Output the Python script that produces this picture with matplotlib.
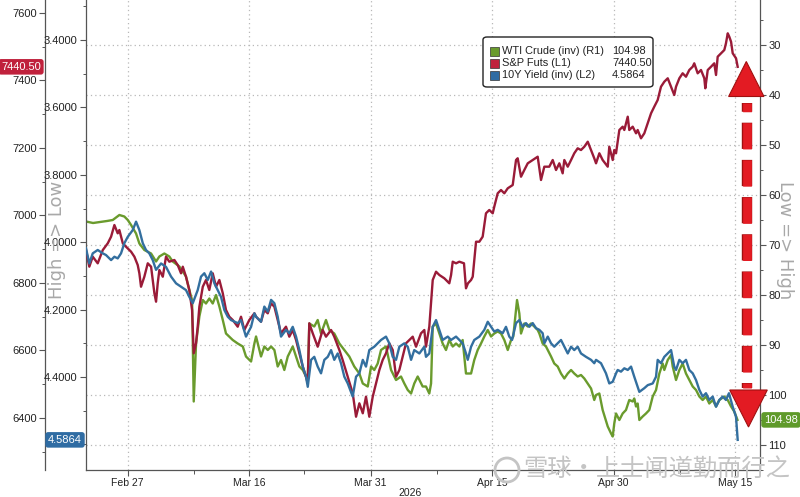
import numpy as np
import matplotlib
matplotlib.use("Agg")
import matplotlib.pyplot as plt
import matplotlib.patheffects as pe
from matplotlib.patches import Polygon, Rectangle, FancyBboxPatch, Ellipse
from matplotlib.ticker import MultipleLocator, FormatStrFormatter
from matplotlib.transforms import blended_transform_factory

plt.rcParams['font.family'] = ['Liberation Sans', 'Noto Sans CJK SC', 'DejaVu Sans']

# x = trading days from Feb 27 (Feb 27 = 0)
date_pos = [0, 11, 22, 33, 44, 55]
date_labels = ["Feb 27", "Mar 16", "Mar 31", "Apr 15", "Apr 30", "May 15"]
minor_pos = [6, 16, 28, 39, 50]

# WTI crude (inverted, right axis)
wti = [(-3.76, 65.3), (-3.12, 65.6), (-2.49, 65.4), (-1.86, 65.2), (-1.34, 65.0), (-0.74, 64.0),
       (-0.29, 64.3), (0.02, 65.0), (0.32, 66.0), (0.77, 67.7), (1.07, 69.7), (1.52, 71.0),
       (2.13, 71.7), (2.58, 73.3), (2.88, 72.3), (3.33, 71.7), (3.78, 72.3), (4.09, 73.3),
       (4.69, 74.3), (5.29, 76.3), (5.59, 79.0), (5.84, 81.0), (5.99, 101.3), (6.20, 89.7),
       (6.50, 84.3), (6.81, 81.0), (7.10, 81.7), (7.40, 80.7), (7.71, 81.7), (8.01, 80.0),
       (8.31, 82.3), (8.62, 85.0), (8.91, 87.7), (9.52, 89.0), (9.97, 89.7), (10.43, 90.3),
       (10.72, 92.3), (11.18, 93.3), (11.48, 89.7), (11.63, 88.3), (11.93, 91.0), (12.08, 92.3),
       (12.38, 90.3), (12.69, 91.0), (12.99, 90.3), (13.29, 91.0), (13.59, 94.3), (13.89, 93.0),
       (14.19, 95.0), (14.50, 92.3), (14.95, 90.3), (15.25, 92.3), (15.55, 94.3), (15.86, 95.0),
       (16.31, 97.0), (16.45, 85.7), (16.90, 86.3), (17.21, 85.0), (17.51, 87.7), (17.96, 85.0),
       (18.26, 87.0), (18.71, 87.7), (19.17, 89.7), (19.62, 91.0), (20.07, 92.3), (20.52, 94.3),
       (20.98, 95.7), (21.29, 97.7), (21.74, 98.3), (22.04, 94.3), (22.33, 95.0), (22.64, 93.7),
       (22.94, 91.0), (23.39, 90.3), (23.85, 95.0), (24.30, 97.0), (24.75, 96.3), (25.05, 97.7),
       (25.36, 99.0), (25.66, 99.7), (25.95, 97.7), (26.26, 96.3), (26.71, 98.3), (27.01, 98.3),
       (27.31, 99.7), (27.47, 97.7), (27.62, 86.3), (27.92, 85.7), (28.22, 87.7), (28.52, 89.7),
       (28.82, 91.0), (29.12, 89.0), (29.43, 90.3), (29.73, 89.7), (30.03, 90.3), (30.33, 89.0),
       (30.48, 92.3), (30.63, 95.7), (31.09, 95.7), (31.38, 93.0), (31.69, 91.0), (31.99, 89.7),
       (32.29, 88.3), (32.60, 87.0), (32.90, 88.3), (33.19, 87.7), (33.50, 87.3), (33.80, 87.7),
       (34.10, 89.0), (34.41, 91.0), (34.71, 89.0), (34.91, 88.3), (35.16, 83.0), (35.25, 81.0),
       (35.46, 83.7), (35.61, 87.7), (35.91, 85.7), (36.22, 86.3), (36.52, 85.7), (36.81, 86.3),
       (37.12, 87.0), (37.27, 87.7), (37.57, 89.7), (37.87, 90.3), (38.03, 91.0), (38.33, 92.3),
       (38.62, 93.7), (38.93, 94.3), (39.23, 95.7), (39.53, 96.7), (39.84, 95.7), (40.14, 95.0),
       (40.43, 95.7), (40.74, 96.3), (41.04, 96.0), (41.34, 96.7), (41.65, 97.7), (41.95, 98.7),
       (42.24, 101.0), (42.40, 100.0), (42.70, 99.7), (43.00, 103.0), (43.46, 106.3), (43.76, 107.7),
       (43.91, 108.3), (44.05, 105.7), (44.21, 103.7), (44.51, 105.0), (44.81, 103.7), (45.11, 103.0),
       (45.41, 101.0), (45.72, 101.3), (45.86, 100.7), (46.02, 102.3), (46.17, 101.7), (46.32, 105.0),
       (46.62, 104.3), (46.92, 103.7), (47.22, 103.0), (47.53, 100.3), (47.83, 99.0), (48.13, 95.7),
       (48.43, 93.7), (48.58, 95.0), (48.89, 93.0), (49.19, 92.0), (49.34, 94.3), (49.64, 97.0),
       (49.94, 95.0), (50.24, 93.7), (50.54, 95.7), (50.84, 97.0), (51.15, 98.3), (51.45, 99.0),
       (51.75, 100.3), (52.05, 101.0), (52.35, 100.3), (52.65, 101.7), (52.96, 101.0), (53.26, 102.3),
       (53.56, 101.0), (54.01, 100.3), (54.32, 101.0), (54.62, 102.3), (54.91, 103.3), (55.20, 104.98)]

# S&P futures (left outer axis)
spx = [(-3.76, 6897.7), (-3.46, 6848.3), (-3.15, 6877.9), (-2.70, 6858.3), (-2.24, 6897.7), (-1.79, 6917.6),
       (-1.49, 6937.2), (-1.19, 6971.8), (-0.89, 6947.2), (-0.74, 6957.0), (-0.43, 6917.6), (-0.14, 6907.5),
       (0.32, 6892.7), (0.62, 6877.9), (0.92, 6853.3), (1.07, 6828.7), (1.22, 6789.0), (1.52, 6818.6),
       (1.83, 6858.3), (2.13, 6848.3), (2.43, 6769.5), (2.58, 6744.6), (2.73, 6799.1), (2.88, 6838.5),
       (3.19, 6818.6), (3.48, 6877.9), (3.78, 6863.1), (4.24, 6868.1), (4.54, 6853.3), (4.84, 6828.7),
       (5.00, 6848.3), (5.29, 6818.6), (5.59, 6779.2), (5.84, 6720.0), (5.99, 6591.7), (6.20, 6621.3),
       (6.35, 6670.5), (6.50, 6729.7), (6.81, 6789.0), (7.10, 6808.9), (7.40, 6779.2), (7.71, 6828.7),
       (8.01, 6789.0), (8.31, 6808.9), (8.62, 6769.5), (8.91, 6720.0), (9.21, 6700.1), (9.52, 6690.3),
       (9.97, 6670.5), (10.27, 6700.1), (10.57, 6660.7), (11.02, 6690.3), (11.48, 6710.2), (11.63, 6700.1),
       (12.08, 6685.3), (12.38, 6720.0), (12.69, 6710.2), (12.99, 6739.8), (13.29, 6729.7), (13.59, 6690.3),
       (13.89, 6650.9), (14.34, 6670.5), (14.64, 6640.9), (14.95, 6660.7), (15.25, 6631.1), (15.55, 6591.7),
       (15.86, 6552.0), (16.15, 6522.3), (16.31, 6502.8), (16.45, 6680.6), (16.76, 6650.9), (17.21, 6611.2),
       (17.66, 6660.7), (17.96, 6640.9), (18.42, 6660.7), (18.71, 6640.9), (19.17, 6601.4), (19.47, 6571.8),
       (19.93, 6522.3), (20.38, 6473.2), (20.68, 6403.8), (20.98, 6443.5), (21.29, 6413.9), (21.58, 6463.1),
       (21.88, 6403.8), (22.19, 6463.1), (22.49, 6502.8), (22.79, 6542.2), (23.09, 6571.8), (23.39, 6591.7),
       (23.69, 6621.3), (24.00, 6601.4), (24.30, 6522.3), (24.60, 6542.2), (25.20, 6621.3), (25.81, 6640.9),
       (26.11, 6611.2), (26.56, 6650.9), (26.86, 6660.7), (27.01, 6611.2), (27.31, 6670.5), (27.62, 6808.9),
       (27.92, 6833.4), (28.22, 6823.7), (28.67, 6813.9), (29.12, 6799.1), (29.28, 6823.7), (29.43, 6863.1),
       (29.73, 6858.3), (30.03, 6863.1), (30.45, 6858.3), (30.63, 6784.3), (30.81, 6799.1), (31.09, 6808.9),
       (31.24, 6818.6), (31.54, 6922.3), (31.84, 6922.3), (32.14, 6937.2), (32.44, 7006.5), (32.74, 7016.3),
       (33.05, 7006.5), (33.19, 7026.0), (33.50, 7065.7), (33.80, 7075.5), (34.10, 7065.7), (34.41, 7080.6),
       (34.86, 7090.3), (35.16, 7164.4), (35.31, 7169.5), (35.61, 7114.9), (35.91, 7134.8), (36.22, 7154.6),
       (36.67, 7164.4), (37.12, 7174.2), (37.42, 7105.2), (37.72, 7144.6), (38.17, 7144.6), (38.48, 7164.4),
       (38.78, 7134.8), (39.08, 7154.6), (39.38, 7125.0), (39.53, 7164.4), (39.84, 7144.6), (40.14, 7164.4),
       (40.43, 7184.3), (40.74, 7199.1), (41.04, 7194.0), (41.34, 7203.8), (41.65, 7218.6), (41.95, 7194.0),
       (42.24, 7169.5), (42.40, 7154.6), (42.70, 7184.3), (43.00, 7164.4), (43.46, 7144.6), (43.60, 7203.8),
       (43.91, 7164.4), (44.05, 7194.0), (44.21, 7184.3), (44.51, 7253.3), (44.81, 7263.1), (44.96, 7253.3),
       (45.27, 7292.7), (45.41, 7253.3), (45.72, 7263.1), (46.02, 7243.5), (46.17, 7253.3), (46.47, 7228.7),
       (46.77, 7243.5), (47.08, 7273.2), (47.38, 7302.8), (47.67, 7322.3), (47.98, 7342.2), (48.28, 7381.6),
       (48.58, 7396.4), (48.89, 7406.5), (49.19, 7381.6), (49.48, 7357.0), (49.64, 7381.6), (49.94, 7406.5),
       (50.24, 7421.3), (50.54, 7411.2), (50.84, 7431.1), (51.15, 7440.9), (51.29, 7450.9), (51.60, 7421.3),
       (51.90, 7431.1), (52.20, 7406.5), (52.29, 7376.9), (52.51, 7431.1), (52.81, 7440.9), (53.10, 7450.9),
       (53.26, 7416.3), (53.41, 7470.5), (53.71, 7480.6), (54.01, 7490.3), (54.16, 7510.2), (54.32, 7539.8),
       (54.46, 7529.8), (54.62, 7514.9), (54.77, 7480.6), (55.07, 7465.8), (55.22, 7440.5)]

# 10Y yield (inverted, left inner axis)
yld = [(-3.76, 4.018), (-3.46, 4.063), (-3.15, 4.033), (-2.70, 4.023), (-2.24, 4.033), (-1.95, 4.038),
       (-1.49, 4.053), (-1.19, 4.043), (-0.89, 4.048), (-0.59, 4.033), (-0.29, 4.003), (0.02, 3.984),
       (0.47, 3.964), (0.77, 3.939), (1.07, 3.964), (1.38, 4.003), (1.67, 4.023), (1.97, 4.033),
       (2.28, 4.053), (2.58, 4.082), (3.03, 4.063), (3.48, 4.073), (3.94, 4.102), (4.39, 4.122),
       (4.84, 4.132), (5.29, 4.142), (5.59, 4.162), (5.90, 4.181), (6.35, 4.142), (6.65, 4.102),
       (6.95, 4.092), (7.26, 4.112), (7.56, 4.087), (7.86, 4.122), (8.16, 4.142), (8.46, 4.162),
       (8.76, 4.201), (9.07, 4.221), (9.37, 4.231), (9.97, 4.240), (10.27, 4.231), (10.72, 4.280),
       (11.18, 4.251), (11.48, 4.211), (11.63, 4.221), (12.08, 4.236), (12.38, 4.191), (12.69, 4.206),
       (12.99, 4.171), (13.29, 4.181), (13.59, 4.221), (13.89, 4.280), (14.34, 4.260), (14.64, 4.270),
       (14.95, 4.251), (15.25, 4.280), (15.55, 4.320), (15.86, 4.369), (16.15, 4.399), (16.31, 4.429),
       (16.61, 4.349), (16.90, 4.340), (17.21, 4.369), (17.51, 4.389), (17.81, 4.349), (18.12, 4.340),
       (18.42, 4.320), (18.71, 4.349), (19.02, 4.330), (19.32, 4.359), (19.62, 4.399), (19.93, 4.419),
       (20.38, 4.458), (20.68, 4.399), (20.98, 4.389), (21.29, 4.349), (21.58, 4.369), (21.88, 4.320),
       (22.33, 4.310), (22.64, 4.300), (22.94, 4.290), (23.39, 4.280), (23.69, 4.300), (24.00, 4.340),
       (24.30, 4.349), (24.60, 4.310), (25.05, 4.300), (25.36, 4.310), (25.66, 4.349), (25.95, 4.320),
       (26.41, 4.330), (26.86, 4.310), (27.01, 4.340), (27.31, 4.330), (27.62, 4.251), (27.92, 4.231),
       (28.22, 4.260), (28.52, 4.290), (28.98, 4.280), (29.28, 4.290), (29.73, 4.280), (30.03, 4.290),
       (30.33, 4.300), (30.63, 4.330), (30.79, 4.349), (31.09, 4.310), (31.38, 4.290), (31.84, 4.280),
       (32.29, 4.260), (32.60, 4.236), (32.90, 4.251), (33.19, 4.265), (33.50, 4.260), (33.95, 4.270),
       (34.25, 4.251), (34.55, 4.280), (34.80, 4.290), (35.16, 4.240), (35.46, 4.231), (35.76, 4.251),
       (36.06, 4.240), (36.36, 4.251), (36.67, 4.240), (36.97, 4.255), (37.27, 4.260), (37.57, 4.270),
       (37.72, 4.300), (38.03, 4.280), (38.33, 4.300), (38.62, 4.310), (38.93, 4.300), (39.23, 4.290),
       (39.53, 4.310), (39.84, 4.330), (40.14, 4.310), (40.43, 4.320), (40.74, 4.310), (41.04, 4.330),
       (41.49, 4.340), (41.95, 4.349), (42.24, 4.359), (42.40, 4.349), (42.85, 4.359), (43.30, 4.389),
       (43.60, 4.419), (43.91, 4.414), (44.21, 4.389), (44.36, 4.379), (44.66, 4.384), (44.96, 4.374),
       (45.27, 4.379), (45.57, 4.369), (45.86, 4.399), (46.17, 4.429), (46.32, 4.444), (46.77, 4.433),
       (47.08, 4.424), (47.53, 4.419), (47.83, 4.399), (47.98, 4.349), (48.28, 4.359), (48.58, 4.340),
       (48.89, 4.330), (49.19, 4.320), (49.48, 4.369), (49.64, 4.379), (49.94, 4.349), (50.24, 4.359),
       (50.54, 4.349), (50.84, 4.379), (51.15, 4.389), (51.45, 4.409), (51.75, 4.438), (52.05, 4.458),
       (52.35, 4.448), (52.65, 4.468), (52.96, 4.458), (53.26, 4.488), (53.56, 4.468), (53.86, 4.458),
       (54.16, 4.468), (54.43, 4.448), (54.77, 4.488), (55.07, 4.518), (55.22, 4.5864)]

names = ["WTI Crude (inv) (R1)", "S&P Futs (L1)", "10Y Yield (inv) (L2)"]
last_vals = ["104.98", "7440.50", "4.5864"]

GREEN = '#6a9b2d'
RED = '#9a1b38'
BLUE = '#336f9f'
GRID = '#b8b8b8'
SPINE = '#555555'
TXT = '#222222'

wti = np.array(wti)
spx = np.array(spx)
yld = np.array(yld)

fig = plt.figure(figsize=(8, 4.97), dpi=100)
fig.patch.set_facecolor('white')
ax_w = fig.add_axes([86 / 800, 27 / 497, 674 / 800, 470 / 497])
ax_s = ax_w.twinx()
ax_y = ax_w.twinx()

ax_w.plot(wti[:, 0], wti[:, 1], color=GREEN, lw=1.7, solid_joinstyle='round')
ax_s.plot(spx[:, 0], spx[:, 1], color=RED, lw=1.7, solid_joinstyle='round')
ax_y.plot(yld[:, 0], yld[:, 1], color=BLUE, lw=1.7, solid_joinstyle='round')

# spines
for a in (ax_w, ax_s, ax_y):
    for s in a.spines.values():
        s.set_visible(False)
        s.set_color(SPINE)
        s.set_linewidth(0.9)
ax_w.spines['left'].set_visible(True)
ax_w.spines['right'].set_visible(True)
ax_w.spines['bottom'].set_visible(True)
ax_s.spines['left'].set_visible(True)
ax_s.spines['left'].set_position(('axes', -41 / 674))

# WTI axis on the right
ax_w.yaxis.tick_right()
ax_w.set_yticks(np.arange(30, 111, 10))
ax_w.yaxis.set_minor_locator(MultipleLocator(5))
ax_w.tick_params(axis='y', which='both', direction='out', left=False, right=True,
                 labelleft=False, labelright=True, colors=SPINE, labelcolor=TXT, labelsize=8, pad=2)
ax_w.tick_params(axis='y', which='major', length=4, width=0.8)
ax_w.tick_params(axis='y', which='minor', length=2.5, width=0.7)

# S&P axis outer left
ax_s.yaxis.set_ticks_position('left')
ax_s.set_yticks(np.arange(6400, 7601, 200))
ax_s.yaxis.set_minor_locator(MultipleLocator(100))
ax_s.tick_params(axis='y', which='both', direction='out', colors=SPINE, labelcolor=TXT,
                 labelsize=8, pad=1.5)
ax_s.tick_params(axis='y', which='major', length=4, width=0.8)
ax_s.tick_params(axis='y', which='minor', length=2.5, width=0.7)

# Yield axis inner left
ax_y.yaxis.set_ticks_position('left')
ax_y.set_yticks(np.arange(3.4, 4.41, 0.2))
ax_y.yaxis.set_minor_locator(MultipleLocator(0.1))
ax_y.yaxis.set_major_formatter(FormatStrFormatter('%.4f'))
ax_y.tick_params(axis='y', which='both', direction='out', colors=SPINE, labelcolor=TXT,
                 labelsize=8, pad=2)
ax_y.tick_params(axis='y', which='major', length=4, width=0.8)
ax_y.tick_params(axis='y', which='minor', length=2.5, width=0.7)

# x axis
ax_w.set_xticks(date_pos)
ax_w.set_xticklabels(date_labels)
ax_w.set_xticks(minor_pos, minor=True)
ax_w.tick_params(axis='x', which='both', direction='out', colors=SPINE, labelcolor=TXT,
                 labelsize=7.5, pad=2)
ax_w.tick_params(axis='x', which='major', length=4, width=0.8)
ax_w.tick_params(axis='x', which='minor', length=3, width=0.7)
ax_w.set_xlabel('2026', fontsize=7.5, color=TXT)
ax_w.xaxis.set_label_coords((410 - 86) / 674, -0.038)

ax_w.grid(True, which='major', axis='both', color=GRID, linestyle=(0, (1, 2.5)), lw=0.9)
ax_w.set_axisbelow(True)

# side captions
fig.text(57 / 800, 1 - 240 / 497, 'High => Low', rotation=90, ha='center', va='center',
         fontsize=13, color='#a8a8a8', family='DejaVu Sans')
fig.text(785 / 800, 1 - 240 / 497, 'Low => High', rotation=270, ha='center', va='center',
         fontsize=13, color='#a8a8a8', family='DejaVu Sans')

# last value tags
tag = dict(fontsize=8, color='white', ha='center', va='center')
fig.text(21 / 800, float(last_vals[1]), last_vals[1],
         transform=blended_transform_factory(fig.transFigure, ax_s.transData),
         bbox=dict(boxstyle='round,pad=0.25', fc='#c0213c', ec='none'), **tag)
fig.text(65 / 800, float(last_vals[2]), last_vals[2],
         transform=blended_transform_factory(fig.transFigure, ax_y.transData),
         bbox=dict(boxstyle='round,pad=0.25', fc='#2f6ca3', ec='none'), **tag)
fig.text(781 / 800, float(last_vals[0]), last_vals[0],
         transform=blended_transform_factory(fig.transFigure, ax_w.transData),
         bbox=dict(boxstyle='round,pad=0.25', fc='#5f9a2a', ec='none'), **tag)

# legend, drawn by hand so the value column lines up
ta = ax_y.transAxes
def fx(px):
    return (px - 86) / 674
def fy(py):
    return 1 - py / 470
ax_y.add_patch(FancyBboxPatch((fx(483), fy(87)), fx(653) - fx(483), fy(37) - fy(87),
                              boxstyle='round,pad=0,rounding_size=0.006', transform=ta,
                              fc='white', ec='#222222', lw=1.0, zorder=5, clip_on=False))
for i, (nm, val, c) in enumerate(zip(names, last_vals, [GREEN, '#c0213c', '#2f6ca3'])):
    rowy = 51.5 + i * 12
    ax_y.add_patch(Rectangle((fx(490), fy(rowy + 4.5)), 9 / 674, 9 / 470, transform=ta,
                             fc=c, ec='#333333', lw=0.5, zorder=6, clip_on=False))
    ax_y.text(fx(502), fy(rowy), nm, transform=ta, fontsize=7.9, color=TXT,
              va='center', ha='left', zorder=7)
    ax_y.text(fx(612), fy(rowy), val, transform=ta, fontsize=7.9, color=TXT,
              va='center', ha='left', zorder=7)

# red dashed double arrow (WTI data coordinates)
tw = ax_w.transData
ax_y.add_patch(Polygon([(56.0, 33.3), (54.4, 40.3), (57.6, 40.3)], closed=True, transform=tw,
                       fc='#e31b23', ec='#a01010', lw=0.8, zorder=8, clip_on=False))
ax_y.add_patch(Polygon([(56.2, 106.4), (54.5, 99.0), (57.9, 99.0)], closed=True, transform=tw,
                       fc='#e31b23', ec='#a01010', lw=0.8, zorder=8, clip_on=False))
ax_y.plot([56.02, 56.02], [41.6, 98.6], transform=tw, color='#e31b23', lw=6.3,
          linestyle=(2.0, (3.0, 1.25)), solid_capstyle='butt', dash_capstyle='butt',
          zorder=8, clip_on=False,
          path_effects=[pe.Stroke(linewidth=7.5, foreground='#a01010'), pe.Normal()])

# watermark
fig.add_artist(Ellipse((507 / 800, 27 / 497), 24 / 800, 24 / 497, transform=fig.transFigure,
                       fill=False, ec='#c4c4c4', lw=2))
fig.text(523 / 800, 27 / 497, '雪球·上士闻道勤而行之', ha='left', va='center', fontsize=17.5,
         color='#c4c4c4', family=['Noto Sans CJK SC', 'DejaVu Sans'])

ax_w.set_xlim(-3.76, 57.24)
ax_w.set_ylim(115, 21)
ax_s.set_ylim(6245.9, 7638.5)
ax_y.set_ylim(4.6758, 3.2813)

fig.savefig('out.png', dpi=100, facecolor='white')
